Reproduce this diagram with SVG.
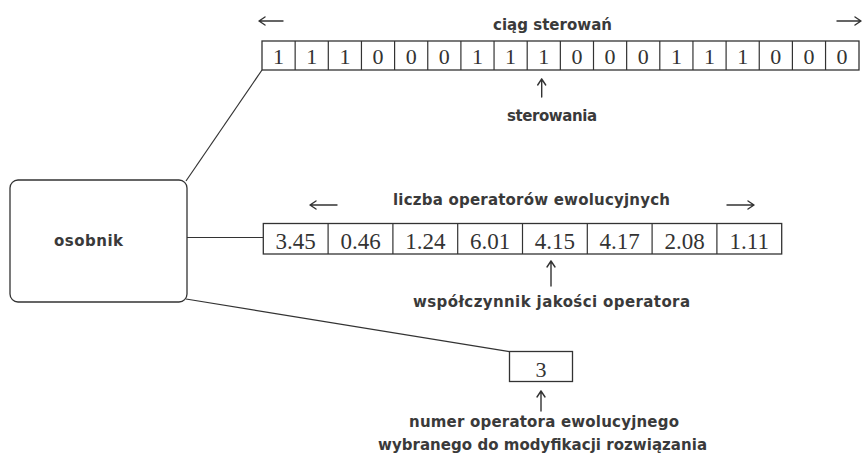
<svg xmlns="http://www.w3.org/2000/svg" width="863" height="457" viewBox="0 0 863 457">
<style>
.bg{fill:#ffffff}
.cell{fill:#ffffff;stroke:#333;stroke-width:1.3}
.ln{fill:none;stroke:#333;stroke-width:1.2}
.arr{fill:none;stroke:#333;stroke-width:1.4;stroke-linecap:round;stroke-linejoin:round}
.lbl{font-family:"DejaVu Sans","Liberation Sans",Arial,sans-serif;font-weight:bold;font-size:15px;fill:#3a3a3a}
.num{font-family:"Liberation Serif","Times New Roman",serif;font-size:22px;fill:#333;text-anchor:middle}
.num2{font-family:"Liberation Serif","Times New Roman",serif;font-size:23px;fill:#333;text-anchor:middle}
</style>
<rect class="bg" x="0" y="0" width="863" height="457"/>
<g id="connectors">
<line class="ln" x1="186" y1="181" x2="262" y2="70"/>
<line class="ln" x1="187" y1="237.5" x2="263.3" y2="237.5"/>
<line class="ln" x1="186" y1="299" x2="509.5" y2="351.7"/>
</g>
<g id="osobnik">
<rect x="10" y="180" width="177" height="122" rx="8" ry="8" fill="#fff" stroke="#333" stroke-width="1.3"/>
<text class="lbl" x="54" y="246" textLength="69" lengthAdjust="spacing">osobnik</text>
</g>
<g id="ciag-sterowan">
<path class="arr" d="M259 21 H283 M265 17 L259 21 L265 25"/>
<text class="lbl" x="493" y="30" textLength="119" lengthAdjust="spacing">ciąg sterowań</text>
<path class="arr" d="M837 21 H861 M855 17 L861 21 L855 25"/>
<g>
<rect class="cell" x="262" y="41" width="597" height="29"/>
<line class="ln" x1="295.15" y1="41" x2="295.15" y2="70"/>
<line class="ln" x1="328.3" y1="41" x2="328.3" y2="70"/>
<line class="ln" x1="361.45" y1="41" x2="361.45" y2="70"/>
<line class="ln" x1="394.6" y1="41" x2="394.6" y2="70"/>
<line class="ln" x1="427.75" y1="41" x2="427.75" y2="70"/>
<line class="ln" x1="460.9" y1="41" x2="460.9" y2="70"/>
<line class="ln" x1="494.05" y1="41" x2="494.05" y2="70"/>
<line class="ln" x1="527.2" y1="41" x2="527.2" y2="70"/>
<line class="ln" x1="560.35" y1="41" x2="560.35" y2="70"/>
<line class="ln" x1="593.5" y1="41" x2="593.5" y2="70"/>
<line class="ln" x1="626.65" y1="41" x2="626.65" y2="70"/>
<line class="ln" x1="659.8" y1="41" x2="659.8" y2="70"/>
<line class="ln" x1="692.95" y1="41" x2="692.95" y2="70"/>
<line class="ln" x1="726.1" y1="41" x2="726.1" y2="70"/>
<line class="ln" x1="759.25" y1="41" x2="759.25" y2="70"/>
<line class="ln" x1="792.4" y1="41" x2="792.4" y2="70"/>
<line class="ln" x1="825.55" y1="41" x2="825.55" y2="70"/>
</g>
<text class="num" x="278.6" y="63.5">1</text>
<text class="num" x="311.7" y="63.5">1</text>
<text class="num" x="344.9" y="63.5">1</text>
<text class="num" x="378" y="63.5">0</text>
<text class="num" x="411.2" y="63.5">0</text>
<text class="num" x="444.3" y="63.5">0</text>
<text class="num" x="477.5" y="63.5">1</text>
<text class="num" x="510.6" y="63.5">1</text>
<text class="num" x="543.8" y="63.5">1</text>
<text class="num" x="576.9" y="63.5">0</text>
<text class="num" x="610.1" y="63.5">0</text>
<text class="num" x="643.2" y="63.5">0</text>
<text class="num" x="676.4" y="63.5">1</text>
<text class="num" x="709.5" y="63.5">1</text>
<text class="num" x="742.7" y="63.5">1</text>
<text class="num" x="775.8" y="63.5">0</text>
<text class="num" x="809" y="63.5">0</text>
<text class="num" x="842.1" y="63.5">0</text>
<path class="arr" d="M541.7 97 V79 M537.7 85 L541.7 79 L545.7 85"/>
<text class="lbl" x="507" y="121" textLength="90" lengthAdjust="spacing">sterowania</text>
</g>
<g id="operatory">
<path class="arr" d="M310 205 H337 M316 201 L310 205 L316 209"/>
<text class="lbl" x="393" y="205" textLength="277" lengthAdjust="spacing">liczba operatorów ewolucyjnych</text>
<path class="arr" d="M727 205 H754 M748 201 L754 205 L748 209"/>
<rect class="cell" x="263.3" y="223.5" width="518.4" height="30.5"/>
<line class="ln" x1="328.1" y1="223.5" x2="328.1" y2="254"/>
<line class="ln" x1="392.9" y1="223.5" x2="392.9" y2="254"/>
<line class="ln" x1="457.7" y1="223.5" x2="457.7" y2="254"/>
<line class="ln" x1="522.5" y1="223.5" x2="522.5" y2="254"/>
<line class="ln" x1="587.3" y1="223.5" x2="587.3" y2="254"/>
<line class="ln" x1="652.1" y1="223.5" x2="652.1" y2="254"/>
<line class="ln" x1="716.9" y1="223.5" x2="716.9" y2="254"/>
<text class="num2" x="295.7" y="249">3.45</text>
<text class="num2" x="360.5" y="249">0.46</text>
<text class="num2" x="425.3" y="249">1.24</text>
<text class="num2" x="490.1" y="249">6.01</text>
<text class="num2" x="554.9" y="249">4.15</text>
<text class="num2" x="619.7" y="249">4.17</text>
<text class="num2" x="684.5" y="249">2.08</text>
<text class="num2" x="749.3" y="249">1.11</text>
<path class="arr" d="M551 286 V261 M547 267 L551 261 L555 267"/>
<text class="lbl" x="413" y="307" textLength="277" lengthAdjust="spacing">współczynnik jakości operatora</text>
</g>
<g id="numer-operatora">
<rect class="cell" x="509.5" y="351.5" width="63" height="30"/>
<text class="num" x="541" y="377">3</text>
<path class="arr" d="M541 411 V391 M537 397 L541 391 L545 397"/>
<text class="lbl" x="409" y="427" textLength="270" lengthAdjust="spacing">numer operatora ewolucyjnego</text>
<text class="lbl" x="378" y="450" textLength="329" lengthAdjust="spacing">wybranego do modyfikacji rozwiązania</text>
</g>
</svg>
